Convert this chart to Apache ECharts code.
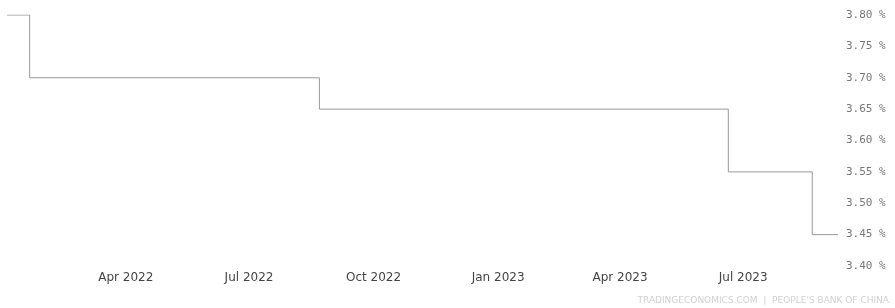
<!DOCTYPE html>
<html>
<head>
<meta charset="utf-8">
<script src="https://cdn.jsdelivr.net/npm/echarts@6/dist/echarts.min.js"></script>
<style>
  html, body { margin: 0; padding: 0; background: #fff; }
  #chart { width: 895px; height: 308px; }
</style>
</head>
<body>
<div id="chart"></div>
<script>
// loan prime rate change dates and values (%)
var dates = ['2021-12-20', '2022-01-20', '2022-08-22', '2023-06-20', '2023-08-21', '2023-09-09'];
var rates = [3.80, 3.70, 3.65, 3.55, 3.45, 3.45];
var yTicks = [3.40, 3.45, 3.50, 3.55, 3.60, 3.65, 3.70, 3.75, 3.80];
var months = ['Jan', 'Feb', 'Mar', 'Apr', 'May', 'Jun', 'Jul', 'Aug', 'Sep', 'Oct', 'Nov', 'Dec'];

var DAY = 24 * 3600 * 1000;
var chart = echarts.init(document.getElementById('chart'));

var option = {
    animation: false,
    grid: { left: 8, right: 57, top: 15, bottom: 42 },
    xAxis: {
        type: 'time',
        min: '2022-01-04',
        max: '2023-09-09',
        splitNumber: 5,
        minInterval: 80 * DAY,
        maxInterval: 100 * DAY,
        axisLine: { show: false },
        axisTick: { show: false },
        splitLine: { show: false },
        axisLabel: {
            margin: 6,
            color: '#444',
            fontFamily: 'DejaVu Sans',
            fontSize: 12,
            formatter: function (v) {
                var d = new Date(v);
                return months[d.getMonth()] + ' ' + d.getFullYear();
            }
        }
    },
    yAxis: {
        type: 'value',
        position: 'right',
        min: yTicks[0],
        max: yTicks[yTicks.length - 1],
        interval: 0.05,
        axisLine: { show: false },
        axisTick: { show: false },
        splitLine: { show: false },
        axisLabel: {
            margin: 8,
            color: '#777',
            fontFamily: 'DejaVu Sans Mono',
            fontSize: 11,
            formatter: function (v) { return v.toFixed(2) + ' %'; }
        }
    },
    series: [{
        type: 'line',
        step: 'end',
        symbol: 'none',
        data: dates.map(function (d, i) { return [d, rates[i]]; }),
        lineStyle: { color: '#999', width: 1 }
    }],
    graphic: [{
        type: 'text',
        right: 6,
        top: 296,
        style: {
            text: 'TRADINGECONOMICS.COM  |  PEOPLE\'S BANK OF CHINA',
            fill: '#d0d0d0',
            font: '9px DejaVu Sans'
        }
    }]
};

chart.setOption(option);
</script>
</body>
</html>
